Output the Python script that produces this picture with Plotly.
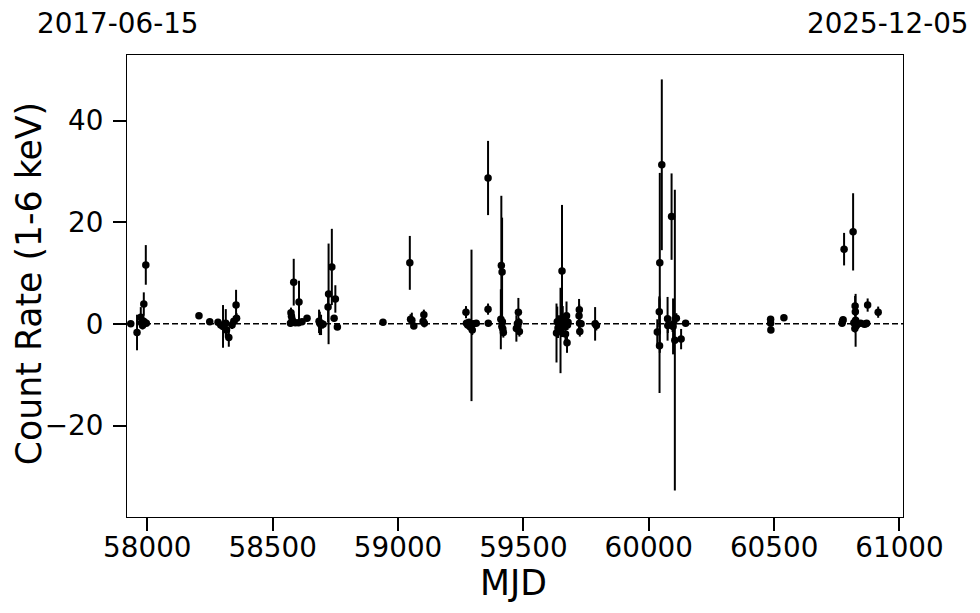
import plotly.graph_objects as go

# MJD, count rate (1-6 keV), 1-sigma error
mjd = [
    57934, 57959, 57974, 57977, 57981, 57985, 57986, 57989, 57994, 57996,
    58206, 58249, 58282, 58293, 58302, 58313, 58316, 58325, 58338, 58345, 58354, 58356,
    58571, 58573, 58575, 58578, 58584, 58590, 58603, 58605, 58617, 58637,
    58685, 58688, 58693, 58701, 58721, 58723, 58736, 58745, 58750, 58758,
    58940,
    59047, 59050, 59055, 59063, 59100, 59103, 59105,
    59271, 59273, 59278, 59283, 59288, 59293, 59296, 59300, 59312,
    59359, 59359, 59360,
    59410, 59412, 59414, 59415, 59416, 59418, 59420,
    59472, 59476, 59478, 59480, 59482, 59484,
    59632, 59635, 59638, 59642, 59648, 59654, 59657, 59660, 59664, 59668, 59672, 59674, 59676, 59678,
    59722, 59723, 59724, 59725, 59730,
    59786, 59791,
    60034, 60042, 60043, 60044, 60052, 60075, 60076, 60091, 60095, 60097, 60104, 60110, 60129, 60147,
    60486, 60486, 60487, 60539,
    60771, 60773, 60775, 60779, 60815, 60818, 60822, 60822, 60823, 60824, 60825, 60826, 60827, 60828,
    60830, 60845, 60860, 60866, 60869, 60873, 60915,
]
rate = [
    0.0, -1.7, 1.3, 0.2, -0.3, 0.5, 3.9, 0.3, 11.6, 0.1,
    1.6, 0.4, 0.3, -0.2, -0.5, 0.1, -1.2, -2.7, -0.2, 0.5, 3.7, 1.1,
    0.1, 2.2, 1.5, 0.8, 8.2, 0.2, 0.2, 4.3, 0.4, 1.1,
    0.5, 0.1, -0.2, -0.1, 3.3, 5.9, 11.2, 1.1, 4.9, -0.6,
    0.3,
    12.0, 0.9, 0.7, -0.4, 0.5, 1.8, 0.1,
    2.3, 0.1, -0.2, 0.3, -0.6, -0.3, -1.2, 0.0, 0.1,
    28.7, 2.9, 0.1,
    0.9, 11.5, -0.5, 10.2, 0.4, -1.0, -1.7,
    -0.9, 0.0, -0.4, 2.3, 0.3, -1.5,
    -1.8, 0.4, -0.8, 0.2, -1.3, 10.4, 1.0, -0.5, 0.5, -2.0, 1.6, -3.7, -0.2, 0.3,
    1.6, 2.8, 0.1, -1.5, 0.0,
    0.0, -0.3,
    -1.6, 2.4, -4.3, 12.0, 31.3, 1.0, -0.3, 21.1, -0.1, -0.5, -3.2, 1.1, -3.0, 0.1,
    0.9, 0.1, -1.2, 1.2,
    0.1, 0.5, 0.8, 14.7, 18.1, 0.2, 0.1, -0.9, 3.5, 2.4, 0.7, -0.4, 0.3, -0.3,
    0.0, 0.1, -0.1, 0.0, 0.1, 3.7, 2.3,
]
err = [
    0.4, 3.5, 2.0, 1.0, 0.8, 0.6, 2.3, 0.5, 3.9, 0.5,
    0.4, 0.4, 0.5, 0.6, 4.2, 2.8, 1.5, 1.8, 0.8, 1.0, 3.0, 1.0,
    0.6, 1.0, 0.8, 0.8, 4.6, 0.5, 0.5, 4.2, 0.5, 0.6,
    2.3, 2.3, 2.0, 0.8, 3.0, 9.9, 7.5, 0.6, 2.7, 0.5,
    0.3,
    5.3, 1.0, 1.5, 0.6, 1.0, 1.0, 0.8,
    1.2, 0.5, 0.8, 0.6, 0.8, 14.9, 1.0, 0.5, 0.4,
    7.3, 1.1, 0.5,
    5.9, 13.7, 1.5, 10.7, 0.8, 1.2, 1.0,
    2.6, 0.8, 0.6, 2.8, 0.8, 1.0,
    5.8, 3.0, 2.0, 1.5, 8.4, 13.0, 2.5, 1.5, 1.0, 1.5, 2.8, 2.0, 1.0, 0.8,
    3.3, 1.0, 0.8, 1.0, 0.6,
    3.3, 1.0,
    2.5, 3.0, 9.3, 17.7, 16.8, 4.3, 1.5, 8.5, 1.5, 5.5, 29.6, 1.0, 2.0, 0.4,
    0.5, 0.4, 0.5, 0.4,
    0.4, 0.5, 0.6, 3.2, 7.6, 0.5, 0.5, 0.8, 2.0, 1.0, 5.2, 0.5, 0.8, 1.0,
    0.5, 0.5, 0.5, 0.5, 0.5, 1.3, 1.1,
]

x_ticks = [58000, 58500, 59000, 59500, 60000, 60500, 61000]
x_ticktext = ["58000", "58500", "59000", "59500", "60000", "60500", "61000"]
y_ticks = [-20, 0, 20, 40]
y_ticktext = ["\u221220", "0", "20", "40"]
date_start = "2017-06-15"
date_end = "2025-12-05"
x_range = [57919, 61014]
y_range = [-38.0, 52.9]

FONT = "DejaVu Sans"
TICK_SIZE = 27.8
TITLE_SIZE = 34.7

fig = go.Figure()
fig.add_trace(go.Scatter(
    x=mjd, y=rate, mode="markers",
    marker=dict(color="black", size=7.5),
    error_y=dict(type="data", array=err, visible=True, color="black",
                 thickness=2, width=0),
    showlegend=False,
))

fig.add_shape(type="line", xref="paper", yref="y", x0=0, x1=1, y0=0, y1=0,
              line=dict(color="black", width=1.5, dash="6px,3px"), layer="below")

fig.add_annotation(text=date_start, xref="paper", yref="paper",
                   x=-0.012, y=1.069, xanchor="center", yanchor="middle", borderpad=0,
                   showarrow=False, font=dict(family=FONT, size=TICK_SIZE, color="black"))
fig.add_annotation(text=date_end, xref="paper", yref="paper",
                   x=0.981, y=1.069, xanchor="center", yanchor="middle", borderpad=0,
                   showarrow=False, font=dict(family=FONT, size=TICK_SIZE, color="black"))

# axis titles
fig.add_annotation(text="MJD", xref="paper", yref="paper",
                   x=0.4985, y=-0.143, xanchor="center", yanchor="middle",
                   showarrow=False, font=dict(family=FONT, size=TITLE_SIZE, color="black"))
fig.add_annotation(text="Count Rate (1-6 keV)", xref="paper", yref="paper",
                   x=-0.127, y=0.505, xanchor="center", yanchor="middle", textangle=-90,
                   borderpad=0,
                   showarrow=False, font=dict(family=FONT, size=TITLE_SIZE, color="black"))

axis_common = dict(
    showgrid=False, zeroline=False, showline=True, mirror=True, automargin=False,
    linecolor="black", linewidth=1, ticks="outside", ticklen=13, tickwidth=2,
    tickcolor="black", tickfont=dict(family=FONT, size=TICK_SIZE, color="black"),
)

# the page body adds an 8px offset; size the figure to fit inside the window
fig.update_layout(
    width=972, height=605,
    margin=dict(l=119, r=77, t=47, b=96),
    paper_bgcolor="white", plot_bgcolor="white",
    font=dict(family=FONT, color="black"),
    xaxis=dict(range=x_range, tickvals=x_ticks, ticktext=x_ticktext,
               ticklabelstandoff=-7, **axis_common),
    yaxis=dict(range=y_range, tickvals=y_ticks, ticktext=y_ticktext,
               ticklabelstandoff=4, **axis_common),
)

fig.write_html("out.html")
